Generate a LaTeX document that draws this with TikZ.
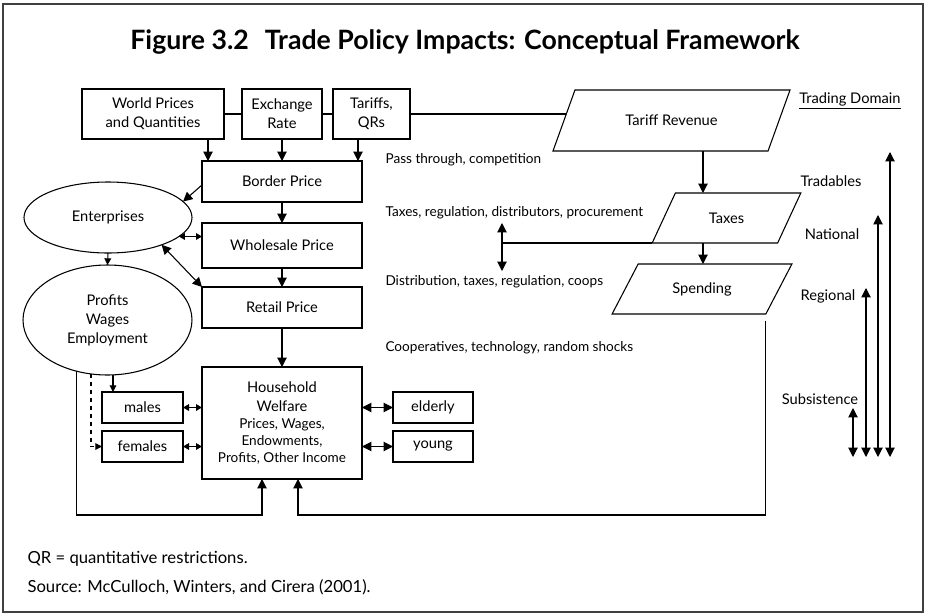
\documentclass[tikz,border=0pt]{standalone}
\usepackage{fontspec}
\setmainfont{Lato}
\usetikzlibrary{shapes.geometric, arrows.meta, calc}

\tikzset{
  box/.style={draw, rectangle, inner sep=0pt, outer sep=0pt, align=center},
  blob/.style={draw, ellipse, inner sep=0pt, outer sep=0pt, align=center},
  slab/.style={draw, trapezium, trapezium stretches=true, inner sep=0pt, outer sep=0pt},
  arr/.style={-{Triangle[width=7pt,length=7pt]}},
  sarr/.style={-{Triangle[width=5pt,length=5pt]}},
  darr/.style={{Triangle[width=7pt,length=7pt]}-{Triangle[width=7pt,length=7pt]}},
  sdarr/.style={{Triangle[width=5pt,length=4.5pt]}-{Triangle[width=5pt,length=4.5pt]}},
  note/.style={anchor=west, inner sep=0pt, font=\fontsize{10.2}{12}\selectfont},
  foot/.style={anchor=west, inner sep=0pt, font=\fontsize{12.5}{15}\selectfont},
  side/.style={inner sep=0pt}
}

\begin{document}
\begin{tikzpicture}[x=0.75pt, y=-0.75pt, line width=0.8pt, font=\fontsize{11}{14.25}\selectfont]
                        \useasboundingbox (0,0) rectangle (926,615);
                        \draw[line width=1pt, black!75] (3,4) rectangle (923,612);
                        \node[font=\bfseries\fontsize{20}{24}\selectfont] (title) at (465,42) {Figure 3.2\hspace{0.6em}Trade Policy Impacts: Conceptual Framework};
                        \node[box, minimum width=106.5pt, minimum height=37.5pt] (world) at (153,114) {World Prices\\and Quantities};
                        \node[box, minimum width=60pt, minimum height=37.5pt] (exch) at (282,114) {Exchange\\Rate};
                        \node[box, minimum width=57.75pt, minimum height=37.5pt] (tariff) at (371.5,114) {Tariffs,\\QRs};
                        \node[box, minimum width=120pt, minimum height=30.75pt] (border) at (282,181.5) {Border Price};
                        \node[box, minimum width=120pt, minimum height=33.75pt] (wholesale) at (282,245.5) {Wholesale Price};
                        \node[box, minimum width=120pt, minimum height=30.75pt] (retail) at (282,307.5) {Retail Price};
                        \node[box, minimum width=120pt, minimum height=84pt] (household) at (282,423) {Household\\Welfare\\[-1.5pt]{\fontsize{10.2}{12}\selectfont Prices, Wages,}\\[-1.5pt]{\fontsize{10.2}{12}\selectfont Endowments,}\\[-1.5pt]{\fontsize{10.2}{12}\selectfont Profits, Other Income}};
                        \node[box, minimum width=60.75pt, minimum height=23.25pt] (males) at (142.5,407.5) {males};
                        \node[box, minimum width=60.75pt, minimum height=23.25pt] (females) at (142.5,446.5) {females};
                        \node[box, minimum width=60pt, minimum height=23.25pt] (elderly) at (433,407.5) {elderly};
                        \node[box, minimum width=60pt, minimum height=23.25pt] (young) at (433,446.5) {young};
                        \node[blob, minimum width=126pt, minimum height=53.25pt] (enterprises) at (108,217.5) {Enterprises};
                        \node[blob, minimum width=126.75pt, minimum height=82.5pt] (profits) at (107.5,320) {Profits\\Wages\\Employment};
                        \node[slab, trapezium left angle=46, trapezium right angle=134, minimum width=179.25pt, minimum height=45.75pt] (revenue) at (671.5,120.5) {Tariff Revenue};
                        \node[slab, trapezium left angle=53, trapezium right angle=127, minimum width=111.75pt, minimum height=37.5pt] (taxes) at (726.5,218) {Taxes};
                        \node[slab, trapezium left angle=48, trapezium right angle=132, minimum width=135pt, minimum height=37.5pt] (spending) at (702,289) {Spending};
                        \node[side] (domain) at (850,101) {\underline{Trading Domain}};
                        \node[side] (tradables) at (831,181) {Tradables};
                        \node[side] (national) at (832,234) {National};
                        \node[side] (regional) at (828,296) {Regional};
                        \node[side] (subsistence) at (820,399) {Subsistence};
                        \node[note] (pass) at (385,160) {Pass through, competition};
                        \node[note] (taxreg) at (385,213) {Taxes, regulation, distributors, procurement};
                        \node[note] (distrib) at (385,282) {Distribution, taxes, regulation, coops};
                        \node[note] (coops) at (385,348) {Cooperatives, technology, random shocks};
                        \node[foot] (qr) at (27,559) {QR = quantitative restrictions.};
                        \node[foot] (source) at (27,587) {Source: McCulloch, Winters, and Cirera (2001).};
                        \coordinate (revin) at ($(revenue.bottom left corner)!0.607!(revenue.top left corner)$);
                        \coordinate (axis) at (703,150);
                        \coordinate (base) at (75,515);
                        \coordinate (hin1) at ([xshift=-15pt]household.south);
                        \coordinate (hin2) at ([xshift=12pt]household.south);
                        \coordinate (spout) at ([yshift=-5pt]spending.bottom right corner);
                        \coordinate (mtop) at ([xshift=8.25pt]males.north west);
                        \coordinate (dtop) at (502,223);
                        \coordinate (dbot) at (502,271);
			\draw (world) -- (exch);
			\draw (exch) -- (tariff);
			\draw (tariff.east) -- (tariff.east -| revin);
			\draw[arr] ([xshift=4.5pt]border.north west |- world.south) -- ([xshift=4.5pt]border.north west);
			\draw[arr] (exch.south) -- (exch.south |- border.north);
			\draw[arr] ([xshift=-3pt]border.north east |- tariff.south) -- ([xshift=-3pt]border.north east);
			\draw[arr] (border) -- (wholesale);
			\draw[arr] (wholesale) -- (retail);
			\draw[arr] (retail) -- (household);
			\draw[arr] ([yshift=-2.6pt]border.west) -- (enterprises.12);
			\draw[sdarr] (enterprises.-15.5) -- (enterprises.-15.5 -| wholesale.west);
			\draw[darr] (enterprises.-27.7) -- (retail.north west);
			\draw[sarr] (enterprises.south) -- (profits.north);
			\draw[sarr] (profits.south -| mtop) -- (mtop);
			\draw[sarr, dashed] (profits.-107) |- (females.west);
			\draw[sdarr] (males.east) -- (males.east -| household.west);
			\draw[sdarr] (females.east) -- (females.east -| household.west);
			\draw[darr] (household.east |- elderly.west) -- (elderly.west);
			\draw[darr] (household.east |- young.west) -- (young.west);
			\draw[arr] (profits.-121.7) |- (base -| hin1) -- (hin1);
			\draw[arr] (spout) |- (base -| hin2) -- (hin2);
			\draw[arr] (revenue.south -| axis) -- (taxes.north -| axis);
			\draw[arr] (taxes.south -| axis) -- (spending.north -| axis);
			\draw[darr] (dtop) -- (dbot);
			\draw (taxes.bottom left corner -| dtop) -- (taxes.bottom left corner);
			\foreach \n/\x/\t in {sub/853/408, reg/866/288, nat/878/215, tra/890/152} {
				\coordinate (lo\n) at (\x,457);
				\coordinate (hi\n) at (\x,\t);
				\draw[darr] (lo\n) -- (hi\n);
			}
                \end{tikzpicture}
\end{document}
